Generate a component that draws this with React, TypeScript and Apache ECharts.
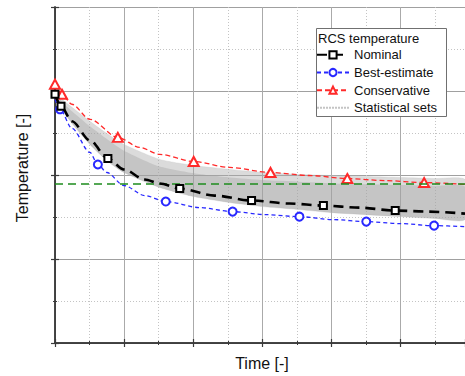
import React, { useEffect, useRef } from "react";
import * as echarts from "echarts";

// Nominal
const nominalX = [0, 0.087, 0.245, 0.505, 0.765, 0.996, 1.299, 1.515, 1.804, 2.309, 2.843, 3.391, 3.882, 4.401, 4.921, 5.411, 5.93];
const nominalY = [2.961, 2.818, 2.639, 2.412, 2.197, 2.066, 1.946, 1.899, 1.839, 1.755, 1.696, 1.66, 1.636, 1.612, 1.576, 1.564, 1.54];
const nominalMarks = [0, 1, 4, 8, 10, 12, 14];

// Best-estimate
const bestX = [0, 0.072, 0.245, 0.505, 0.62, 0.75, 0.996, 1.299, 1.602, 2.092, 2.569, 3.045, 3.535, 4.026, 4.502, 4.993, 5.483, 5.93];
const bestY = [2.901, 2.782, 2.555, 2.269, 2.125, 2.03, 1.875, 1.755, 1.684, 1.612, 1.564, 1.528, 1.504, 1.469, 1.445, 1.421, 1.397, 1.385];
const bestMarks = [1, 4, 8, 10, 12, 14, 16];

// Conservative
const consX = [0, 0.101, 0.245, 0.505, 0.909, 1.227, 1.515, 2.006, 2.525, 3.117, 3.68, 4.228, 4.762, 5.339, 5.93];
const consY = [3.081, 2.961, 2.842, 2.663, 2.448, 2.328, 2.245, 2.161, 2.09, 2.03, 1.994, 1.958, 1.934, 1.91, 1.887];
const consMarks = [0, 1, 4, 7, 9, 11, 13];

// Statistical sets envelope
const bandX = [0, 0.101, 0.245, 0.505, 0.765, 0.996, 1.515, 2.006, 2.525, 3.001, 3.535, 3.997, 4.502, 5.007, 5.498, 5.93];
const bandUpper = [2.997, 2.901, 2.806, 2.639, 2.484, 2.364, 2.185, 2.113, 2.066, 2.03, 2.006, 1.994, 1.982, 1.97, 1.958, 1.946];
const bandDense = [2.97, 2.87, 2.76, 2.58, 2.42, 2.29, 2.10, 2.02, 1.97, 1.94, 1.92, 1.90, 1.89, 1.88, 1.87, 1.86];
const bandLower = [2.901, 2.782, 2.615, 2.364, 2.161, 2.03, 1.851, 1.743, 1.672, 1.624, 1.588, 1.552, 1.528, 1.505, 1.481, 1.469];

// Reference level (green dashed)
const refLevel = 1.893;

const X_MAX = 5.93;
const Y_MAX = 4;

const FONT = "Liberation Sans, Arial, sans-serif";

function build(xs: number[], ys: number[], marks: number[]) {
  return xs.map((x, i) =>
    marks.includes(i) ? [x, ys[i]] : { value: [x, ys[i]], symbol: "none" }
  );
}

const axisLine = () => ({ show: true, lineStyle: { color: "#3a3a3a", width: 1.5 } });
const tick = () => ({ show: true, inside: true, length: 4, lineStyle: { color: "#3a3a3a", width: 1.2 } });
const minorTick = () => ({ show: true, splitNumber: 2, length: 2, lineStyle: { color: "#3a3a3a", width: 1 } });
const splitLine = (c: string) => ({ show: true, lineStyle: { color: c, width: 1 } });
const minorSplitLine = () => ({ show: true, lineStyle: { color: "#c4c4c4", width: 1, type: [1, 2] } });

export default function App() {
  const ref = useRef<HTMLDivElement>(null);
  useEffect(() => {
    if (!ref.current) return;
    const chart = echarts.init(ref.current, undefined, { renderer: "svg" });

    chart.setOption({
      animation: false,
      grid: { left: 55, top: 7, width: 411, height: 336 },
      xAxis: [
        {
          type: "value", min: 0, max: X_MAX, interval: 1,
          axisLine: axisLine(), axisTick: tick(), minorTick: minorTick(),
          splitLine: splitLine("#aaaaaa"), minorSplitLine: minorSplitLine(),
          axisLabel: { show: false },
        },
        {
          type: "value", position: "top", min: 0, max: X_MAX, interval: 1,
          axisLine: axisLine(), axisTick: tick(), minorTick: minorTick(),
          splitLine: { show: false },
          axisLabel: { show: false },
        },
      ],
      yAxis: [
        {
          type: "value", min: 0, max: Y_MAX, interval: 1,
          axisLine: axisLine(), axisTick: tick(), minorTick: minorTick(),
          splitLine: splitLine("#a0a0a0"), minorSplitLine: minorSplitLine(),
          axisLabel: { show: false },
        },
        {
          type: "value", position: "right", min: 0, max: Y_MAX, interval: 1,
          axisLine: axisLine(), axisTick: tick(), minorTick: minorTick(),
          splitLine: { show: false },
          axisLabel: { show: false },
        },
      ],
      legend: {
        orient: "vertical",
        align: "left",
        left: 316,
        top: 46,
        padding: 0,
        itemGap: 0,
        itemWidth: 32,
        itemHeight: 9,
        z: 11,
        textStyle: { fontFamily: FONT, fontSize: 13, color: "#111", lineHeight: 17.67 },
        data: ["Nominal", "Best-estimate", "Conservative", "Statistical sets"],
      },
      graphic: [
        {
          type: "rect", z: 10,
          shape: { x: 316.5, y: 28.5, width: 130, height: 88 },
          style: { fill: "#ffffff", stroke: "#707070", lineWidth: 1 },
        },
        {
          type: "text", x: 318, y: 38, z: 12,
          style: { text: "RCS temperature", fontFamily: FONT, fontSize: 13, fill: "#111", verticalAlign: "middle" },
        },
        {
          type: "text", x: 22, y: 168, rotation: Math.PI / 2, z: 12,
          style: { text: "Temperature [-]", fontFamily: FONT, fontSize: 16, fill: "#111", align: "center", verticalAlign: "middle" },
        },
        {
          type: "text", x: 262, y: 363, z: 12,
          style: { text: "Time [-]", fontFamily: FONT, fontSize: 16, fill: "#111", align: "center", verticalAlign: "middle" },
        },
      ],
      series: [
        {
          type: "custom",
          name: "band",
          data: [[0, 0]],
          silent: true,
          z: 1,
          renderItem: (params: any, api: any) => {
            const outer: number[][] = [];
            for (let i = 0; i < bandX.length; i++) outer.push(api.coord([bandX[i], bandUpper[i]]));
            for (let i = bandX.length - 1; i >= 0; i--) outer.push(api.coord([bandX[i], bandLower[i]]));
            const inner: number[][] = [];
            for (let i = 0; i < bandX.length; i++) inner.push(api.coord([bandX[i], bandDense[i]]));
            for (let i = bandX.length - 1; i >= 0; i--) inner.push(api.coord([bandX[i], bandLower[i]]));
            return {
              type: "group",
              children: [
                {
                  type: "polygon",
                  shape: { points: outer, smooth: 0.2 },
                  style: { fill: "rgba(170,170,170,0.42)", stroke: "rgba(190,190,190,0.6)", lineWidth: 0.5 },
                },
                {
                  type: "polygon",
                  shape: { points: inner, smooth: 0.2 },
                  style: { fill: "rgba(160,160,160,0.38)", stroke: "none" },
                },
              ],
            };
          },
        },
        {
          type: "line",
          name: "Statistical sets",
          data: [],
          symbol: "line",
          lineStyle: { color: "#c4c4c4", width: 1, type: [2, 1] },
          itemStyle: { color: "#d4d4d4" },
        },
        {
          type: "line",
          name: "Best-estimate",
          data: build(bestX, bestY, bestMarks),
          smooth: 0.3,
          smoothMonotone: "x",
          symbol: "emptyCircle",
          symbolSize: 8,
          z: 3,
          lineStyle: { color: "#2828ff", width: 1.3, type: [4, 3] },
          itemStyle: { color: "#2828ff", borderWidth: 1.3 },
        },
        {
          type: "line",
          name: "Conservative",
          data: build(consX, consY, consMarks),
          smooth: 0.3,
          smoothMonotone: "x",
          symbol: "emptyTriangle",
          symbolSize: [10, 9],
          z: 3,
          lineStyle: { color: "#ff2a2a", width: 1.3, type: [5, 3] },
          itemStyle: { color: "#ff2a2a", borderWidth: 1.3 },
        },
        {
          type: "line",
          name: "Reference",
          data: [[0, refLevel], [X_MAX, refLevel]],
          symbol: "none",
          z: 4,
          lineStyle: { color: "#1e8c1e", width: 1.6, type: [8, 5] },
          itemStyle: { color: "#1e8c1e" },
        },
        {
          type: "line",
          name: "Nominal",
          data: build(nominalX, nominalY, nominalMarks),
          smooth: 0.3,
          smoothMonotone: "x",
          symbol: "emptyRect",
          symbolSize: 7,
          z: 5,
          lineStyle: { color: "#000000", width: 2.6, type: [10, 6] },
          itemStyle: { color: "#000000", borderWidth: 1 },
        },
      ],
    });
    return () => chart.dispose();
  }, []);
  return (
    <div
      ref={ref}
      style={{ position: "fixed", left: 0, top: 0, width: 465, height: 376, background: "#fff" }}
    />
  );
}
